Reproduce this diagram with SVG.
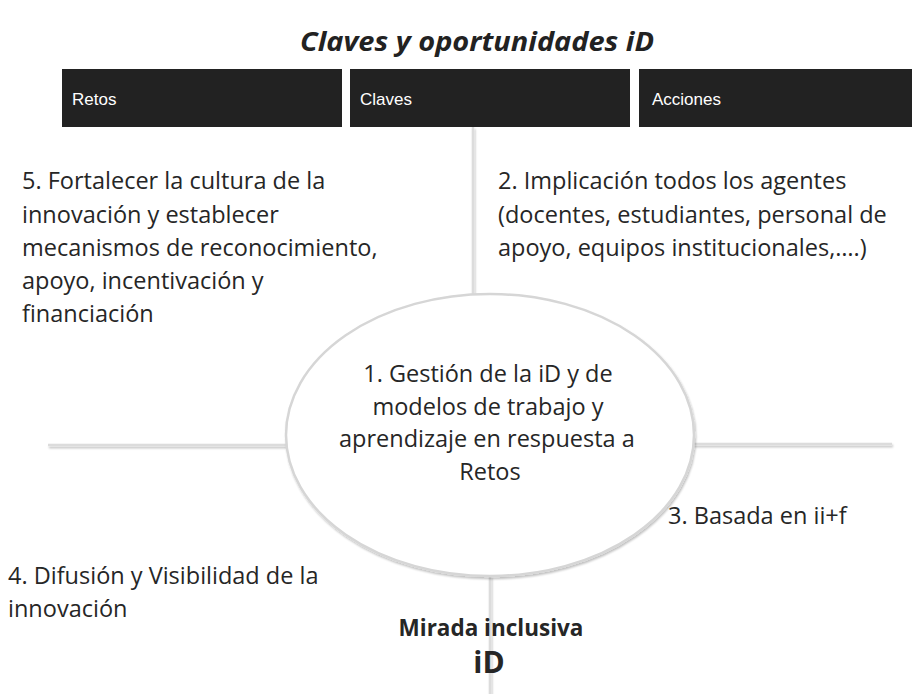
<svg xmlns="http://www.w3.org/2000/svg" width="912" height="694" viewBox="0 0 912 694">
<defs>
<filter id="sh" x="-10%" y="-10%" width="120%" height="120%">
<feGaussianBlur in="SourceAlpha" stdDeviation="1.2"/>
<feOffset dx="1" dy="1.5" result="b"/>
<feComponentTransfer><feFuncA type="linear" slope="0.25"/></feComponentTransfer>
<feMerge><feMergeNode/><feMergeNode in="SourceGraphic"/></feMerge>
</filter>
</defs>
<style>
.t{font-family:"Open Sans","Noto Sans",sans-serif;font-size:23.5px;fill:#262626}
.h{font-family:"Liberation Sans",Arial,sans-serif;font-size:17px;fill:#ffffff}
.box{fill:#222222}
.ln{stroke:#dcdcdc;stroke-width:2.5;fill:none}
.b{font-family:"Open Sans","Noto Sans",sans-serif;font-weight:bold;fill:#262626}
</style>
<rect width="912" height="694" fill="#ffffff"/>
<text x="477" y="51" text-anchor="middle" font-family="'Open Sans','Noto Sans',sans-serif" font-weight="bold" font-style="italic" font-size="27" fill="#222222" textLength="354" lengthAdjust="spacingAndGlyphs">Claves y oportunidades iD</text>

<g id="connectors" filter="url(#sh)">
<line class="ln" x1="473" y1="127" x2="473" y2="295"/>
<line class="ln" x1="490" y1="576" x2="490" y2="694"/>
<line class="ln" x1="48" y1="445" x2="287" y2="445"/>
<line class="ln" x1="693" y1="444" x2="892" y2="444"/>
</g>

<g id="retos">
<rect class="box" x="62" y="69" width="280" height="58"/>
<text class="h" x="72" y="105">Retos</text>
</g>
<g id="claves">
<rect class="box" x="350" y="69" width="280" height="58"/>
<text class="h" x="360" y="105">Claves</text>
</g>
<g id="acciones">
<rect class="box" x="639" y="69" width="273" height="58"/>
<text class="h" x="652" y="105">Acciones</text>
</g>

<g id="centro">
<ellipse cx="490" cy="435" rx="204" ry="141" fill="#ffffff" stroke="#d6d6d6" stroke-width="2.5" filter="url(#sh)"/>
<text class="t" text-anchor="middle">
<tspan x="491" y="382">1. Gestión de la iD y de</tspan>
<tspan x="491" y="415">modelos de trabajo y</tspan>
<tspan x="490" y="447">aprendizaje en respuesta a</tspan>
<tspan x="490" y="480">Retos</tspan>
</text>
</g>

<g id="n5">
<text class="t">
<tspan x="22" y="189">5. Fortalecer la cultura de la</tspan>
<tspan x="22" y="223">innovación y establecer</tspan>
<tspan x="22" y="256">mecanismos de reconocimiento,</tspan>
<tspan x="22" y="289">apoyo, incentivación y</tspan>
<tspan x="22" y="322">financiación</tspan>
</text>
</g>

<g id="n2">
<text class="t">
<tspan x="498" y="189">2. Implicación todos los agentes</tspan>
<tspan x="498" y="223">(docentes, estudiantes, personal de</tspan>
<tspan x="498" y="256">apoyo, equipos institucionales,….)</tspan>
</text>
</g>

<g id="n3">
<text class="t" x="668" y="524">3. Basada en ii+f</text>
</g>

<g id="n4">
<text class="t">
<tspan x="8" y="584">4. Difusión y Visibilidad de la</tspan>
<tspan x="8" y="617">innovación</tspan>
</text>
</g>

<g id="mirada">
<text class="b" x="491" y="636" font-size="22.5" text-anchor="middle">Mirada inclusiva</text>
<text class="b" x="489" y="673" font-size="30" text-anchor="middle">iD</text>
</g>
</svg>
